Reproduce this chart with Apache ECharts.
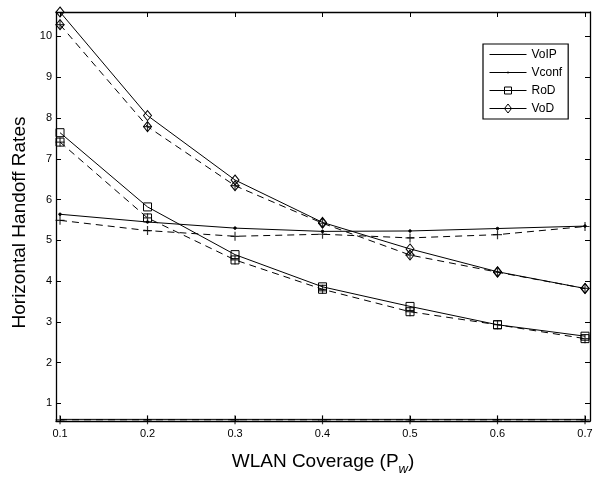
<!DOCTYPE html>
<html><head><meta charset="utf-8">
<script src="https://cdn.jsdelivr.net/npm/echarts@6/dist/echarts.min.js"></script>
<style>html,body{margin:0;padding:0;background:#fff}#c{width:600px;height:481px}</style>
</head><body><div id="c"></div>
<script>
const xs = [0.1, 0.2, 0.3, 0.4, 0.5, 0.6, 0.7];
const xTicks = [0.1, 0.2, 0.3, 0.4, 0.5, 0.6, 0.7];
const yTicks = [1, 2, 3, 4, 5, 6, 7, 8, 9, 10];
const voipA = [0.61, 0.61, 0.61, 0.61, 0.61, 0.61, 0.61];
const voipS = [0.60, 0.60, 0.60, 0.60, 0.60, 0.60, 0.60];
const vconfA = [5.64, 5.45, 5.30, 5.22, 5.23, 5.29, 5.35];
const vconfS = [5.49, 5.24, 5.10, 5.15, 5.06, 5.14, 5.34];
const rodA = [7.64, 5.82, 4.65, 3.86, 3.38, 2.93, 2.65];
const rodS = [7.41, 5.55, 4.52, 3.80, 3.25, 2.93, 2.59];
const vodA = [10.6, 8.06, 6.48, 5.44, 4.79, 4.23, 3.82];
const vodS = [10.29, 7.79, 6.34, 5.42, 4.64, 4.22, 3.82];

const pts = v => xs.map((x, i) => [x, v[i]]);
const PLUS = 'path://M0,5L10,5M5,0L5,10';
const black = '#000';
function solid(name, v, symbol, size) {
  return {
    name, type: 'line', data: pts(v), clip: false, symbol, symbolSize: size,
    showSymbol: symbol !== 'none',
    lineStyle: { color: black, width: 1 },
    itemStyle: { color: (symbol === 'circle') ? black : 'transparent', borderColor: black, borderWidth: 1 },
    emphasis: { disabled: true }, z: 3
  };
}
function dashed(v, symbol, size) {
  return {
    name: '_d', type: 'line', data: pts(v), clip: false, symbol, symbolSize: size,
    showSymbol: symbol !== 'none',
    lineStyle: { color: black, width: 1, type: [7, 5] },
    itemStyle: { color: 'transparent', borderColor: black, borderWidth: 1 },
    emphasis: { disabled: true }, z: 2
  };
}
function plus(v) {
  return {
    name: '_p', type: 'scatter', data: pts(v), clip: false, symbol: PLUS, symbolSize: 9,
    itemStyle: { color: 'transparent', borderColor: black, borderWidth: 1.2 },
    emphasis: { disabled: true }, z: 4
  };
}
const BOX = 'M0,0M37,12';
const legendIcons = {
  VoIP: 'path://' + BOX + 'M0,6L37,6',
  Vconf: 'path://' + BOX + 'M0,6L37,6M18,5.5L19,5.5L19,6.5L18,6.5Z',
  RoD: 'path://' + BOX + 'M0,6L37,6M15,2.5L22,2.5L22,9.5L15,9.5Z',
  VoD: 'path://' + BOX + 'M0,6L37,6M18.5,1.5L22,6L18.5,10.5L15,6Z'
};
const FONT = 'Liberation Sans, Arial, sans-serif';
const tickCommon = { inside: true, length: 5, lineStyle: { color: black, width: 1 } };
const chart = echarts.init(document.getElementById('c'));
chart.setOption({
  animation: false,
  backgroundColor: '#fff',
  grid: { left: 56, right: 10, top: 12, bottom: 48, containLabel: false },
  legend: {
    data: ['VoIP', 'Vconf', 'RoD', 'VoD'].map(n => ({ name: n, icon: legendIcons[n] })),
    orient: 'vertical', left: 483, top: 44,
    padding: [4, 6, 4, 6], itemWidth: 37, itemHeight: 12, itemGap: 5,
    symbolKeepAspect: false,
    itemStyle: { color: 'transparent', borderColor: black, borderWidth: 1 },
    backgroundColor: '#fff', borderColor: black, borderWidth: 1.2, borderRadius: 0,
    textStyle: { fontFamily: FONT, fontSize: 12, lineHeight: 12, color: black },
    selectedMode: false
  },
  xAxis: [{
    type: 'value', min: 0.0954, max: 0.7057, position: 'bottom',
    name: 'WLAN Coverage (P{sub|w})', nameLocation: 'middle', nameGap: 27,
    nameTextStyle: { fontFamily: FONT, fontSize: 19, color: black,
      rich: { sub: { fontFamily: FONT, fontSize: 13, fontStyle: 'italic', color: black, padding: [15, 0, 0, 0] } } },
    axisLine: { show: true, lineStyle: { color: black, width: 1.3 } },
    axisTick: Object.assign({ customValues: xTicks }, tickCommon),
    axisLabel: { customValues: xTicks, fontFamily: FONT, fontSize: 11, color: black, margin: 7,
      formatter: v => v.toFixed(1) },
    splitLine: { show: false }
  }, {
    type: 'value', min: 0.0954, max: 0.7057, position: 'top',
    axisLine: { show: true, lineStyle: { color: black, width: 1.3 } },
    axisTick: Object.assign({ customValues: xTicks }, tickCommon),
    axisLabel: { show: false }, splitLine: { show: false }
  }],
  yAxis: [{
    type: 'value', min: 0.57, max: 10.6, position: 'left',
    name: 'Horizontal Handoff Rates', nameLocation: 'middle', nameGap: 22, nameRotate: 90,
    nameTextStyle: { fontFamily: FONT, fontSize: 19, color: black, padding: [0, 12, 0, 0] },
    axisLine: { show: true, lineStyle: { color: black, width: 1.3 } },
    axisTick: Object.assign({ customValues: yTicks }, tickCommon),
    axisLabel: { customValues: yTicks, fontFamily: FONT, fontSize: 11, color: black, margin: 4 },
    splitLine: { show: false }
  }, {
    type: 'value', min: 0.57, max: 10.6, position: 'right',
    axisLine: { show: true, lineStyle: { color: black, width: 1.3 } },
    axisTick: Object.assign({ customValues: yTicks }, tickCommon),
    axisLabel: { show: false }, splitLine: { show: false }
  }],
  series: [
    solid('VoIP', voipA, 'none', 0),
    solid('Vconf', vconfA, 'circle', 2.5),
    solid('RoD', rodA, 'rect', 8),
    solid('VoD', vodA, 'diamond', [8, 10]),
    dashed(voipS, 'none', 0),
    dashed(vconfS, 'none', 0),
    dashed(rodS, 'rect', 8),
    dashed(vodS, 'diamond', [8, 10]),
    plus(voipS), plus(vconfS), plus(rodS), plus(vodS)
  ]
});
</script></body></html>
